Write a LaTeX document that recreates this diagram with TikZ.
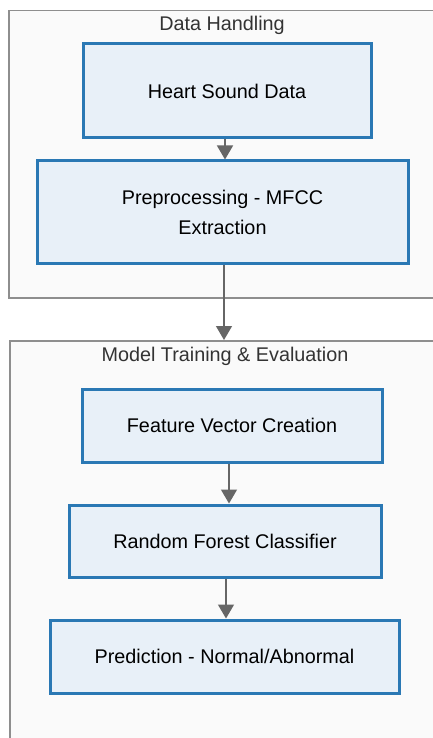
\documentclass[tikz,border=0pt]{standalone}
\usepackage{fontspec}
\setmainfont{Liberation Sans}
\usetikzlibrary{arrows.meta}

\definecolor{boxfill}{HTML}{E8F0F8}
\definecolor{boxline}{HTML}{2A78B4}
\definecolor{clufill}{HTML}{FAFAFA}
\definecolor{cluline}{HTML}{8E8E8E}
\definecolor{freccia}{HTML}{666666}

\tikzset{
  cluster/.style={draw=cluline, fill=clufill, line width=1.5pt, inner sep=0pt, anchor=north west},
  titolo/.style={text=black!80, anchor=center},
  passo/.style={draw=boxline, fill=boxfill, line width=3pt, align=center, text=black},
  freccia/.style={draw=freccia, line width=1.4pt, -{Triangle[width=16pt,length=14pt]}}
}

\begin{document}
\begin{tikzpicture}[x=1pt,y=1pt,font=\fontsize{19.8}{30}\selectfont]
\useasboundingbox (0,0) rectangle (433,-738);

\begin{scope}
\clip (0,0) rectangle (433,-738);
\fill[white] (0,0) rectangle (433,-738);

% riquadri
\node[cluster, minimum width=440, minimum height=287] (dh) at (8,-10) {};
\node[titolo] at (222,-25) {Data Handling};
\node[cluster, minimum width=440, minimum height=420] (mt) at (9,-340) {};
\node[titolo] at (225,-356) {Model Training \& Evaluation};

\node[passo, minimum width=288, minimum height=94] (hsd) at (227,-91) {Heart Sound Data};
\node[passo, minimum width=371, minimum height=102] (pre) at (222.5,-212) {Preprocessing - MFCC\\Extraction};
\node[passo, minimum width=300, minimum height=73] (fvc) at (232,-425.5) {Feature Vector Creation};
\node[passo, minimum width=312, minimum height=72] (rfc) at (225,-541) {Random Forest Classifier};
\node[passo, minimum width=349, minimum height=73] (pred) at (224.5,-656.5) {Prediction - Normal/Abnormal};

\draw[freccia] (hsd.south -| 225,0) -- (225,0 |- pre.north);
\draw[freccia] (pre.south -| 224,0) -- (224,0 |- mt.north);
\draw[freccia] (fvc.south -| 229,0) -- (229,0 |- rfc.north);
\draw[freccia] (rfc.south -| 226,0) -- (226,0 |- pred.north);

\end{scope}

\end{tikzpicture}
\end{document}
